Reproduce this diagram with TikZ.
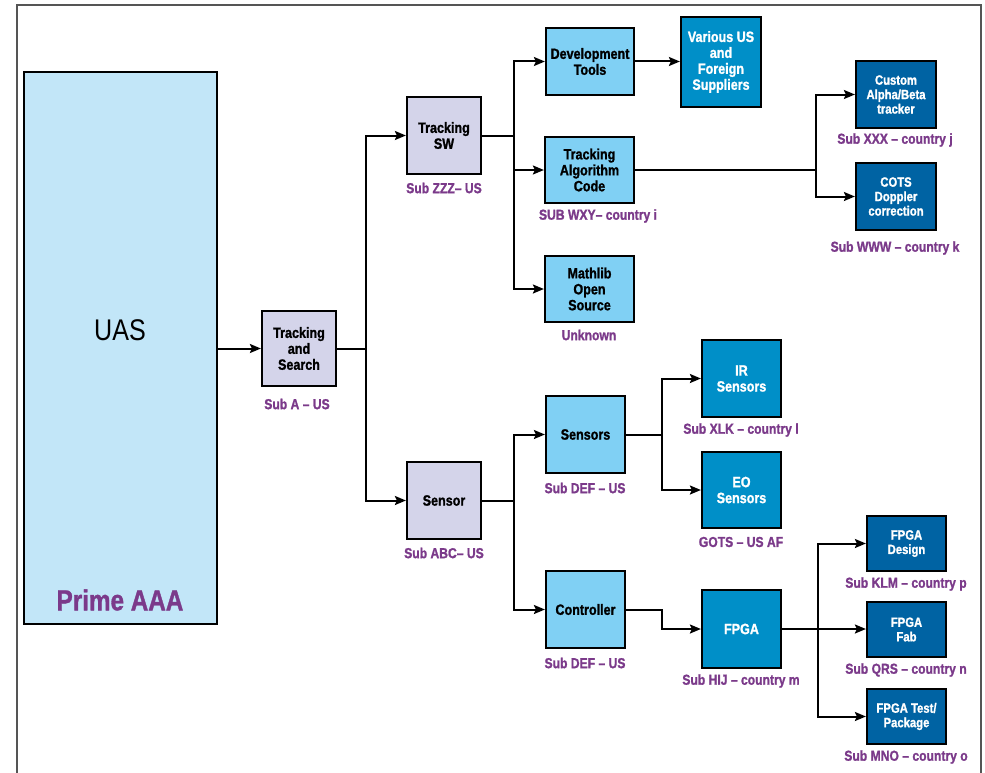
\documentclass[tikz,border=0pt]{standalone}
\usepackage{fontspec}
\setmainfont{Liberation Sans}[FakeStretch=0.84, BoldFeatures={FakeBold=1.2}]
\usetikzlibrary{arrows.meta}
\definecolor{uasfill}{HTML}{C2E6F8}
\definecolor{lavfill}{HTML}{D4D4EA}
\definecolor{lbluefill}{HTML}{80D0F4}
\definecolor{mbluefill}{HTML}{008FC8}
\definecolor{dbluefill}{HTML}{0063A3}
\definecolor{subpurple}{HTML}{7B3A8A}
\definecolor{framegray}{HTML}{555555}
\tikzset{
  bx/.style={draw=black, line width=2.2bp, align=center, inner sep=1bp,
    font=\fontsize{15}{16}\selectfont\bfseries},
  lavbox/.style={bx, fill=lavfill, text=black},
  lbbox/.style={bx, fill=lbluefill, text=black},
  mbbox/.style={bx, fill=mbluefill, text=white},
  dbbox/.style={bx, fill=dbluefill, text=white, font=\fontsize{13.5}{14.5}\selectfont\bfseries},
  sublabel/.style={text=subpurple, inner sep=0pt, font=\fontsize{14.5}{16}\selectfont\bfseries},
  conn/.style={line width=2bp, draw=black},
  arr/.style={conn, -{Stealth[length=11bp,width=9bp,inset=2bp]}},
}
\begin{document}
\begin{tikzpicture}[x=1bp,y=-1bp]
\useasboundingbox (0,0) rectangle (985,773);
\fill[white] (0,0) rectangle (985,773);
\draw[framegray, line width=1.6bp] (17,773) -- (17,5) -- (981,5) -- (981,773);

% boxes
\node[bx, fill=uasfill, minimum width=193bp, minimum height=552bp] (uas) at (120.5,348) {};
\node[inner sep=0pt, font=\fontsize{30}{32}\selectfont] (uastext) at (120,330) {UAS};
\node[inner sep=0pt, text=subpurple, font=\fontsize{29}{32}\selectfont\bfseries] (prime) at (120,600) {Prime AAA};

\node[lavbox, minimum width=74bp, minimum height=75bp] (ts) at (299,348.5) {Tracking\\and\\Search};
\node[lavbox, minimum width=74bp, minimum height=77bp] (tsw) at (444,135.5) {Tracking\\SW};
\node[lavbox, minimum width=74bp, minimum height=77bp] (sensor) at (444,500.5) {Sensor};

\node[lbbox, minimum width=88bp, minimum height=67bp] (dev) at (590,61.5) {Development\\Tools};
\node[lbbox, minimum width=89bp, minimum height=66bp] (algo) at (589.5,170) {Tracking\\Algorithm\\Code};
\node[lbbox, minimum width=89bp, minimum height=66bp] (math) at (589.5,289) {Mathlib\\Open\\Source};
\node[mbbox, minimum width=80bp, minimum height=90bp] (various) at (721,62) {Various US\\and\\Foreign\\Suppliers};
\node[dbbox, minimum width=80bp, minimum height=67bp] (custom) at (896,94.5) {Custom\\Alpha/Beta\\tracker};
\node[dbbox, minimum width=80bp, minimum height=67bp] (cots) at (896,196.5) {COTS\\Doppler\\correction};

\node[lbbox, minimum width=79bp, minimum height=77bp] (sensors) at (585.5,434.5) {Sensors};
\node[mbbox, minimum width=79bp, minimum height=77bp] (ir) at (741.5,378.5) {IR\\Sensors};
\node[mbbox, minimum width=79bp, minimum height=76bp] (eo) at (741.5,490) {EO\\Sensors};
\node[lbbox, minimum width=79bp, minimum height=77bp] (ctrl) at (585.5,609.5) {Controller};
\node[mbbox, minimum width=79bp, minimum height=78bp] (fpga) at (741.5,629) {FPGA};
\node[dbbox, minimum width=79bp, minimum height=55bp] (fd) at (906.5,543.5) {FPGA\\Design};
\node[dbbox, minimum width=79bp, minimum height=55bp] (ff) at (906.5,629.5) {FPGA\\Fab};
\node[dbbox, minimum width=79bp, minimum height=55bp] (ft) at (906.5,716.5) {FPGA Test/\\Package};

% labels
\node[sublabel] (lts) at (297,404) {Sub A – US};
\node[sublabel] (ltsw) at (444,188) {Sub ZZZ– US};
\node[sublabel] (lalgo) at (598,216) {SUB WXY– country i};
\node[sublabel] (lmath) at (589,335) {Unknown};
\node[sublabel] (lcustom) at (895,140) {Sub XXX – country j};
\node[sublabel] (lcots) at (895,248) {Sub WWW – country k};
\node[sublabel] (lsensor) at (444,553) {Sub ABC– US};
\node[sublabel] (lsensors) at (585,488) {Sub DEF – US};
\node[sublabel] (lir) at (741,430) {Sub XLK – country l};
\node[sublabel] (leo) at (741,542) {GOTS – US AF};
\node[sublabel] (lctrl) at (585,663) {Sub DEF – US};
\node[sublabel] (lfpga) at (741,681) {Sub HIJ – country m};
\node[sublabel] (lfd) at (906,584) {Sub KLM – country p};
\node[sublabel] (lff) at (906,670) {Sub QRS – country n};
\node[sublabel] (lft) at (906,757) {Sub MNO – country o};

% junctions
\coordinate (j1) at (366,348.5);
\coordinate (j2) at (514,135.5);
\coordinate (j3) at (816,170);
\coordinate (j4) at (514,500.5);
\coordinate (j5) at (662,434.5);
\coordinate (j6) at (662,609.5);
\coordinate (j7) at (818,629);

% connectors
\draw[arr] (uas.east |- ts.west) -- (ts.west);
\draw[conn] (ts.east) -- (j1);
\draw[arr] (j1) |- (tsw.west);
\draw[arr] (j1) |- (sensor.west);

\draw[conn] (tsw.east) -- (j2);
\draw[arr] (j2) |- (dev.west);
\draw[arr] (j2) |- (algo.west);
\draw[arr] (j2) |- (math.west);
\draw[arr] (dev.east) -- (dev.east -| various.west);

\draw[conn] (algo.east) -- (j3);
\draw[arr] (j3) |- (custom.west);
\draw[arr] (j3) |- (cots.west);

\draw[conn] (sensor.east) -- (j4);
\draw[arr] (j4) |- (sensors.west);
\draw[arr] (j4) |- (ctrl.west);

\draw[conn] (sensors.east) -- (j5);
\draw[arr] (j5) |- (ir.west);
\draw[arr] (j5) |- (eo.west);

\draw[arr] (ctrl.east) -- (j6) |- (fpga.west);

\draw[arr] (fpga.east) -- (fpga.east -| ff.west);
\draw[arr] (j7) |- (fd.west);
\draw[arr] (j7) |- (ft.west);
\end{tikzpicture}
\end{document}
